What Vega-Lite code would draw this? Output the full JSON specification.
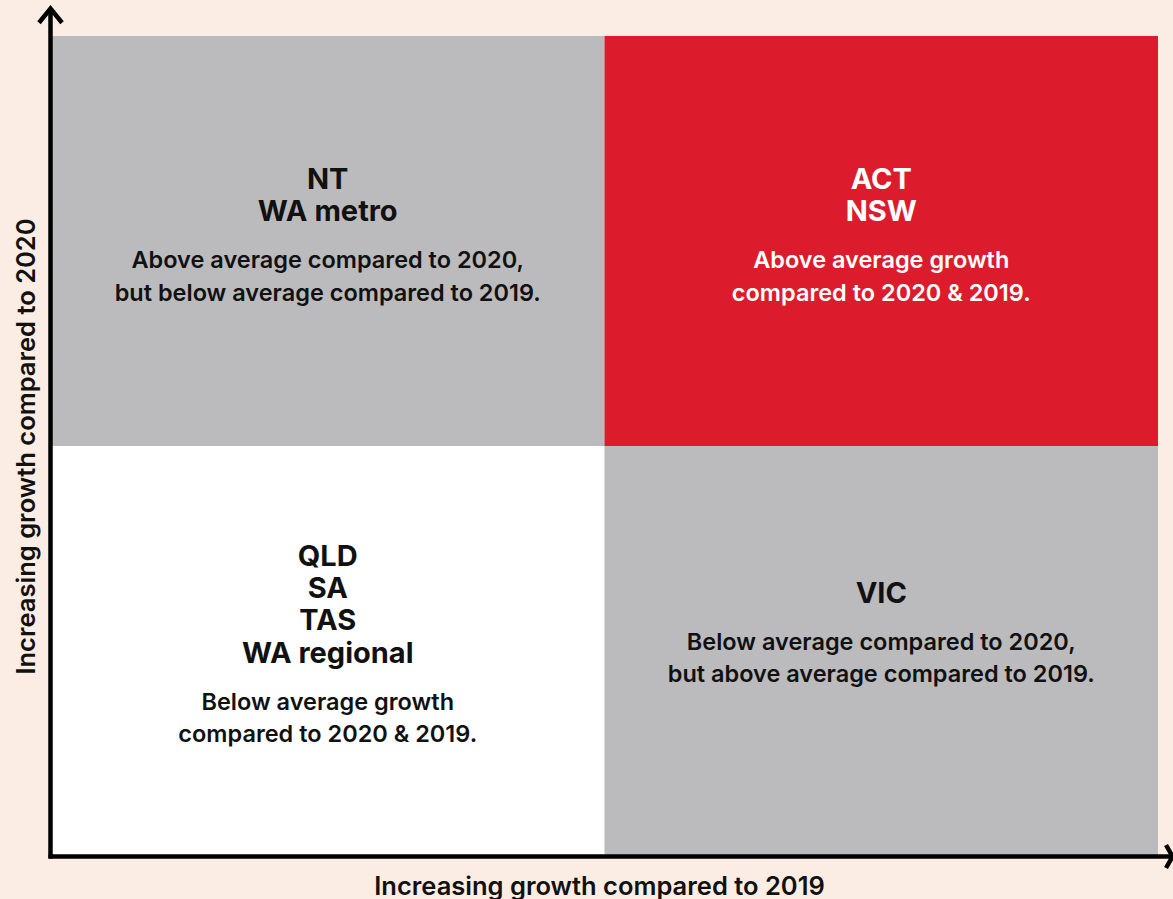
{
  "$schema": "https://vega.github.io/schema/vega-lite/v6.json",
  "width": 1107,
  "height": 820,
  "autosize": {"type": "none"},
  "padding": {"left": 51, "top": 36, "right": 15, "bottom": 43},
  "background": "#fcede4",
  "config": {"view": {"stroke": null}, "font": "Inter"},
  "encoding": {
    "x": {
      "field": "x", "type": "quantitative",
      "scale": {"domain": [0, 2], "nice": false, "zero": false},
      "axis": {"title": "Increasing growth compared to 2019", "domain": false, "ticks": false, "labels": false, "grid": false,
               "titleFont": "Inter", "titleFontSize": 25.5, "titleFontWeight": 600, "titleColor": "#111111", "titlePadding": 18, "titleX": 548}
    },
    "y": {
      "field": "y", "type": "quantitative",
      "scale": {"domain": [0, 2], "nice": false, "zero": false},
      "axis": {"title": "Increasing growth compared to 2020", "domain": false, "ticks": false, "labels": false, "grid": false,
               "titleFont": "Inter", "titleFontSize": 25.5, "titleFontWeight": 600, "titleColor": "#111111", "titlePadding": 12}
    }
  },
  "layer": [
    {
      "data": {"values": [
        {"x": 0, "x2": 1, "y": 1, "y2": 2, "kind": "mixed"},
        {"x": 1, "x2": 2, "y": 1, "y2": 2, "kind": "high"},
        {"x": 0, "x2": 1, "y": 0, "y2": 1, "kind": "low"},
        {"x": 1, "x2": 2, "y": 0, "y2": 1, "kind": "mixed"}
      ]},
      "mark": {"type": "rect"},
      "encoding": {
        "x2": {"field": "x2"},
        "y2": {"field": "y2"},
        "color": {"field": "kind", "type": "nominal", "legend": null,
                  "scale": {"domain": ["mixed", "high", "low"], "range": ["#bbbbbd", "#dc1c2c", "#ffffff"]}}
      }
    },
    {
      "data": {"values": [
        {"x": 0.5, "y": 1.6524, "kind": "mixed", "text": "NT\nWA metro"},
        {"x": 1.5, "y": 1.6524, "kind": "high", "text": "ACT\nNSW"},
        {"x": 0.5, "y": 0.7341, "kind": "low", "text": "QLD\nSA\nTAS\nWA regional"},
        {"x": 1.5, "y": 0.6439, "kind": "mixed", "text": "VIC"}
      ]},
      "mark": {"type": "text", "font": "Inter", "fontSize": 29, "fontWeight": 700, "baseline": "top", "align": "center", "lineBreak": "\n", "lineHeight": 32.3, "dy": -12.4},
      "encoding": {
        "text": {"field": "text", "type": "nominal"},
        "color": {"condition": {"test": "datum.kind === 'high'", "value": "#ffffff"}, "value": "#111111"}
      }
    },
    {
      "data": {"values": [
        {"x": 0.5, "y": 1.4549, "kind": "mixed", "text": "Above average compared to 2020,\nbut below average compared to 2019."},
        {"x": 1.5, "y": 1.4549, "kind": "high", "text": "Above average growth\ncompared to 2020 & 2019."},
        {"x": 0.5, "y": 0.378, "kind": "low", "text": "Below average growth\ncompared to 2020 & 2019."},
        {"x": 1.5, "y": 0.5244, "kind": "mixed", "text": "Below average compared to 2020,\nbut above average compared to 2019."}
      ]},
      "mark": {"type": "text", "font": "Inter", "fontSize": 23.5, "fontWeight": 600, "baseline": "top", "align": "center", "lineBreak": "\n", "lineHeight": 32.3, "dy": -10.2},
      "encoding": {
        "text": {"field": "text", "type": "nominal"},
        "color": {"condition": {"test": "datum.kind === 'high'", "value": "#ffffff"}, "value": "#111111"}
      }
    },
    {
      "data": {"values": [
        {"seg": "yaxis", "i": 0, "x": -0.0009, "y": -0.0061},
        {"seg": "yaxis", "i": 1, "x": -0.0009, "y": 2.066},
        {"seg": "xaxis", "i": 0, "x": -0.0045, "y": -0.0012},
        {"seg": "xaxis", "i": 1, "x": 2.0262, "y": -0.0012},
        {"seg": "yarrow", "i": 0, "x": -0.0217, "y": 2.0324},
        {"seg": "yarrow", "i": 1, "x": -0.0009, "y": 2.067},
        {"seg": "yarrow", "i": 2, "x": 0.0199, "y": 2.0324},
        {"seg": "xarrow", "i": 0, "x": 2.0145, "y": 0.0268},
        {"seg": "xarrow", "i": 1, "x": 2.0262, "y": -0.0012},
        {"seg": "xarrow", "i": 2, "x": 2.0145, "y": -0.0293}
      ]},
      "mark": {"type": "line", "color": "#000000", "strokeWidth": 4.5, "strokeCap": "butt", "strokeJoin": "miter"},
      "encoding": {
        "detail": {"field": "seg", "type": "nominal"},
        "order": {"field": "i", "type": "quantitative"}
      }
    }
  ]
}
